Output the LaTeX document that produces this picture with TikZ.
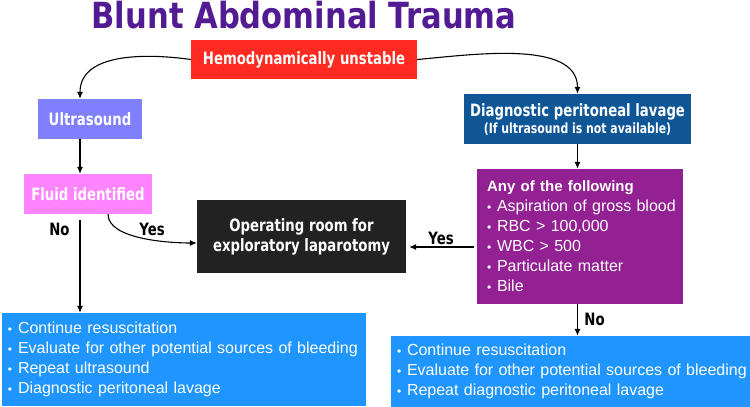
\documentclass[tikz,border=0pt]{standalone}
\usepackage{fontspec}
\setmainfont{Liberation Sans}
\newfontfamily\boxfont[FakeStretch=0.78]{DejaVu Sans}
\newfontfamily\titlefont[FakeStretch=0.85]{DejaVu Sans}
\usetikzlibrary{arrows.meta,calc}
\definecolor{TitlePurple}{HTML}{531B93}
\definecolor{HemoRed}{HTML}{FF2A20}
\definecolor{UsBlue}{HTML}{8080FF}
\definecolor{DplBlue}{HTML}{0F5697}
\definecolor{FluidPink}{HTML}{FF85FF}
\definecolor{SurgBlack}{HTML}{222222}
\definecolor{CritPlum}{HTML}{942193}
\definecolor{CareBlue}{HTML}{1F95FF}
\newcommand{\itm}[1]{\mbox{\makebox[10pt][l]{\raisebox{0.5pt}{\fontsize{12}{12}\selectfont\textbullet}}#1}}
\tikzset{
  heading/.style={inner sep=0pt,text=TitlePurple,font=\titlefont\bfseries\fontsize{36}{40}\selectfont},
  flowbox/.style={rectangle,inner sep=0pt,text=white,align=center,font=\boxfont\bfseries\fontsize{17}{20}\selectfont},
  listbox/.style={rectangle,inner ysep=0pt,text=white,align=left,font=\fontsize{16}{20}\selectfont},
  lbl/.style={inner sep=0pt,font=\boxfont\bfseries\fontsize{17}{20}\selectfont},
  arr/.style={-{Latex[length=7pt,width=6pt]},line width=1.1pt}
}
\begin{document}
\begin{tikzpicture}[x=1pt,y=1pt]
  \useasboundingbox (0,0) rectangle (750,-407);
  \node[heading,anchor=base] (ttl) at (304,-28) {Blunt Abdominal Trauma};
  % boxes
  \node[flowbox,fill=HemoRed,minimum width=226pt,minimum height=39pt] (hemo) at (304,-59.5) {Hemodynamically unstable};
  \node[flowbox,fill=UsBlue,minimum width=104pt,minimum height=40pt] (us) at (90,-119) {Ultrasound};
  \node[flowbox,fill=DplBlue,minimum width=227pt,minimum height=50pt] (dpl) at (577.5,-119) {Diagnostic peritoneal lavage\\[-3pt]{\fontsize{14}{16}\selectfont(If ultrasound is not available)}};
  \node[flowbox,fill=FluidPink,minimum width=128pt,minimum height=40pt] (fluid) at (88,-194) {Fluid identified};
  \node[flowbox,fill=SurgBlack,minimum width=209pt,minimum height=73pt] (surg) at (301.5,-236.5) {Operating room for\\exploratory laparotomy};
  \node[listbox,fill=CritPlum,text width=186pt,inner xsep=10pt,minimum height=135pt] (crit) at (580,-236.5)
    {{\bfseries\fontsize{15}{20}\selectfont Any of the following}\\
     \itm{Aspiration of gross blood}\\
     \itm{RBC > 100,000}\\
     \itm{WBC > 500}\\
     \itm{Particulate matter}\\
     \itm{Bile}};
  \node[listbox,fill=CareBlue,text width=352pt,inner xsep=6pt,minimum height=93pt] (careL) at (184,-359.5)
    {\itm{Continue resuscitation}\\
     \itm{Evaluate for other potential sources of bleeding}\\
     \itm{Repeat ultrasound}\\
     \itm{Diagnostic peritoneal lavage}};
  \node[listbox,fill=CareBlue,text width=347pt,inner xsep=6pt,minimum height=71pt] (careR) at (570.5,-371.5)
    {\itm{Continue resuscitation}\\
     \itm{Evaluate for other potential sources of bleeding}\\
     \itm{Repeat diagnostic peritoneal lavage}};
  % connectors
  \coordinate (colL) at (80,0);
  \draw[arr] (hemo.west) to[out=172,in=90] (us.north -| colL);
  \draw[arr] (hemo.east) to[out=5,in=90,looseness=0.85] (dpl.north);
  \draw[arr] (us.south -| colL) -- (fluid.north -| colL);
  \draw[arr,shorten <=6pt] (fluid.south -| colL) -- (careL.north -| colL);
  \node[lbl] (noL) at (59.5,-229) {No};
  \draw[arr] ([xshift=20pt]fluid.south) to[out=-90,in=180,looseness=0.7] ([yshift=-6.5pt]surg.west);
  \node[lbl] (yesL) at (152,-229) {Yes};
  \draw[arr] (dpl.south) -- (dpl.south |- crit.north);
  \draw[arr,shorten <=3pt,shorten >=3pt] ([yshift=-10.5pt]crit.west) -- ([yshift=-10.5pt]surg.east);
  \node[lbl] (yesM) at (441,-238) {Yes};
  \draw[arr] (crit.south -| dpl.south) -- (careR.north -| dpl.south);
  \node[lbl] (noR) at (594.5,-319) {No};
\end{tikzpicture}
\end{document}
